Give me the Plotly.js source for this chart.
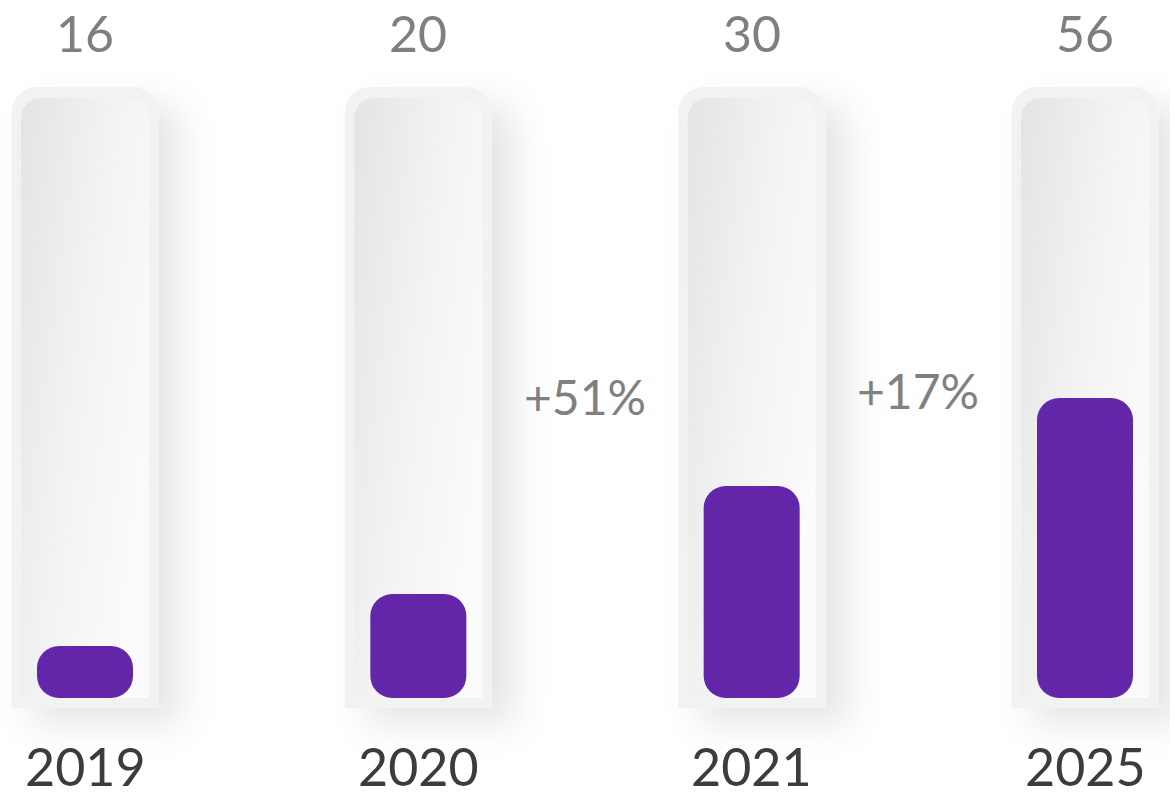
<!DOCTYPE html>
<html>
<head>
<meta charset="utf-8">
<script src="https://cdn.plot.ly/plotly-3.0.1.min.js"></script>
<style>
  html, body { margin: 0; padding: 0; background: #ffffff; }
  #chart { width: 1175px; height: 800px; }
</style>
</head>
<body>
<div id="chart"></div>
<script>
// ---- data ----
const categories   = ['2019', '2020', '2021', '2025'];
const valueLabels  = ['16', '20', '30', '56'];
const fillLevel    = [8.67, 17.33, 35.33, 50];   // % of the tube that is filled
const tubeFull     = [100, 100, 100, 100];        // full tube scale
const growthLabels = ['+51%', '+17%'];
const growthLevel  = [50.2, 51.3];

const PURPLE = '#6326A9';
const FONT = 'Lato, "Liberation Sans", sans-serif';

const traces = [
  { // outer tube (square bottom, rounded top)
    type: 'bar', x: categories, y: tubeFull.map(v => v + 3.5), yaxis: 'y',
    width: 0.441, marker: { color: '#f2f2f2', cornerradius: 26, line: { width: 0 } },
    hoverinfo: 'skip', showlegend: false
  },
  { // inner tube
    type: 'bar', x: categories, y: tubeFull, yaxis: 'y2',
    width: 0.384, marker: { color: '#ececec', cornerradius: 20, line: { width: 0 } },
    hoverinfo: 'skip', showlegend: false
  },
  { // fill (floating bar -> all four corners rounded)
    type: 'bar', x: categories, y: fillLevel, base: 0, yaxis: 'y2',
    width: 0.288, marker: { color: PURPLE, cornerradius: 22, line: { width: 0 } },
    hoverinfo: 'skip', showlegend: false
  }
];

const annotations = [];
categories.forEach((c, i) => {
  annotations.push({
    x: i, y: 1, xref: 'x', yref: 'paper', text: valueLabels[i], showarrow: false,
    xanchor: 'center', yanchor: 'top', yshift: -1,
    font: { family: FONT, size: 50, color: '#7f7f7f' }
  });
  annotations.push({
    x: i, y: 0, xref: 'x', yref: 'paper', text: c, showarrow: false,
    xanchor: 'center', yanchor: 'bottom', yshift: 1,
    font: { family: FONT, size: 52, color: '#3c3c3c' }
  });
});
growthLabels.forEach((g, i) => {
  annotations.push({
    x: i + 1.5, y: growthLevel[i], xref: 'x', yref: 'y2', text: g, showarrow: false,
    xanchor: 'center', yanchor: 'middle',
    font: { family: FONT, size: 48, color: '#808080' }
  });
});

const hiddenAxis = { showgrid: false, zeroline: false, showticklabels: false, ticks: '', showline: false };

const layout = {
  width: 1175, height: 800,
  margin: { l: 0, r: 5, t: 0, b: 0 },
  paper_bgcolor: '#ffffff', plot_bgcolor: 'rgba(0,0,0,0)',
  barmode: 'overlay', hovermode: false, showlegend: false,
  xaxis: Object.assign({ type: 'category', range: [-0.255, 3.255] }, hiddenAxis),
  yaxis: Object.assign({ range: [-15.33, 118] }, hiddenAxis),
  yaxis2: Object.assign({ range: [-17, 116.33], overlaying: 'y' }, hiddenAxis),
  annotations: annotations
};

Plotly.newPlot('chart', traces, layout, { displayModeBar: false, staticPlot: true }).then(() => {
  const svg = document.querySelector('#chart .main-svg');
  const NS = 'http://www.w3.org/2000/svg';
  let defs = svg.querySelector('defs');
  if (!defs) { defs = document.createElementNS(NS, 'defs'); svg.insertBefore(defs, svg.firstChild); }

  const grad = document.createElementNS(NS, 'linearGradient');
  grad.setAttribute('id', 'tubeGrad');
  grad.setAttribute('x1', '0'); grad.setAttribute('y1', '0');
  grad.setAttribute('x2', '1'); grad.setAttribute('y2', '0.6');
  [['0', '#e4e4e4'], ['0.55', '#f3f3f3'], ['1', '#fbfbfb']].forEach(([o, c]) => {
    const s = document.createElementNS(NS, 'stop');
    s.setAttribute('offset', o); s.setAttribute('stop-color', c);
    grad.appendChild(s);
  });
  defs.appendChild(grad);

  const filt = document.createElementNS(NS, 'filter');
  filt.setAttribute('id', 'tubeShadow');
  filt.setAttribute('x', '-60%'); filt.setAttribute('y', '-20%');
  filt.setAttribute('width', '220%'); filt.setAttribute('height', '140%');
  const ds = document.createElementNS(NS, 'feDropShadow');
  ds.setAttribute('dx', '22'); ds.setAttribute('dy', '16');
  ds.setAttribute('stdDeviation', '18');
  ds.setAttribute('flood-color', '#000'); ds.setAttribute('flood-opacity', '0.10');
  filt.appendChild(ds);
  defs.appendChild(filt);

  const barTraces = svg.querySelectorAll('.barlayer .trace');
  barTraces[0].querySelectorAll('path').forEach(p => p.setAttribute('filter', 'url(#tubeShadow)'));
  barTraces[1].querySelectorAll('path').forEach(p => { p.style.fill = 'url(#tubeGrad)'; });
});
</script>
</body>
</html>
